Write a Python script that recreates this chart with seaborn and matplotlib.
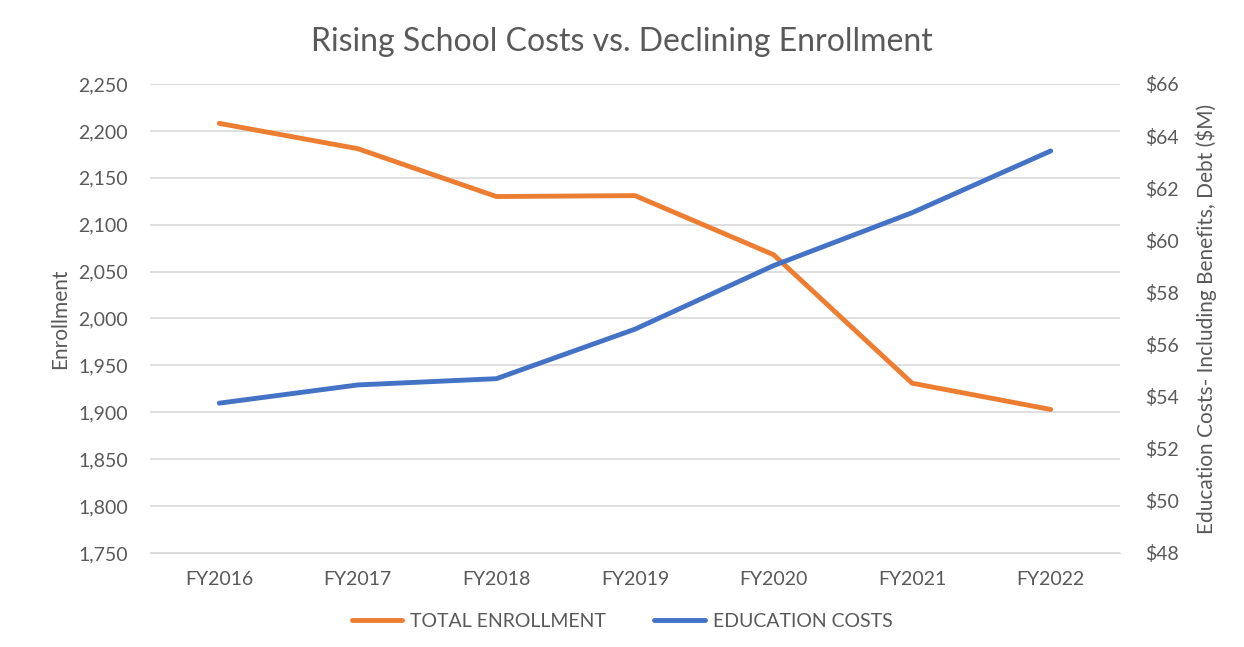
import pandas as pd
import matplotlib
matplotlib.use("Agg")
import matplotlib.pyplot as plt
import seaborn as sns
from matplotlib.lines import Line2D
from matplotlib.ticker import FuncFormatter

# Datos
years = ["FY2016", "FY2017", "FY2018", "FY2019", "FY2020", "FY2021", "FY2022"]
enrollment = [2208, 2181, 2130, 2131, 2068, 1931, 1903]
costs = [53.75, 54.45, 54.69, 56.59, 59.03, 61.06, 63.43]

df = pd.DataFrame({"Year": years, "Enrollment": enrollment, "Costs": costs})

sns.set_style("white")
plt.rcParams["font.family"] = ["Lato", "DejaVu Sans"]

orange = "#ED7D31"
blue = "#4472C4"
gray = "#595959"

fig = plt.figure(figsize=(12.44, 6.47), dpi=100)
ax = fig.add_axes([0.1206, 0.1453, 0.7797, 0.7249])
ax2 = ax.twinx()

sns.lineplot(data=df, x="Year", y="Enrollment", ax=ax, color=orange, linewidth=3.5,
             solid_capstyle="round", sort=False)
sns.lineplot(data=df, x="Year", y="Costs", ax=ax2, color=blue, linewidth=3.5,
             solid_capstyle="round", sort=False)

ax.set_ylim(1750, 2250)
ax.set_yticks(range(1750, 2251, 50))
ax.yaxis.set_major_formatter(FuncFormatter(lambda v, p: f"{int(v):,}"))
ax2.set_ylim(48, 66)
ax2.set_yticks(range(48, 67, 2))
ax2.yaxis.set_major_formatter(FuncFormatter(lambda v, p: f"${int(v)}"))
ax.set_xlim(-0.5, 6.5)

ax.grid(axis="y", color="#D9D9D9", linewidth=1.2)
ax.set_axisbelow(True)
for a in (ax, ax2):
    for s in a.spines.values():
        s.set_visible(False)
    a.tick_params(length=0, labelsize=14, colors=gray)
ax.spines["bottom"].set_visible(True)
ax.spines["bottom"].set_color("#D9D9D9")
ax.tick_params(axis="x", pad=13)
ax.tick_params(axis="y", pad=16)
ax2.tick_params(axis="y", pad=18)

ax.set_xlabel("")
ax.set_ylabel("Enrollment", fontsize=15, color=gray, labelpad=6)
ax2.set_ylabel("Education Costs- Including Benefits, Debt ($M)", fontsize=15, color=gray, labelpad=12)

fig.suptitle("Rising School Costs vs. Declining Enrollment", fontsize=23, color=gray, y=0.958)

handles = [Line2D([], [], color=orange, linewidth=3.5, solid_capstyle="round"),
           Line2D([], [], color=blue, linewidth=3.5, solid_capstyle="round")]
fig.legend(handles, ["TOTAL ENROLLMENT", "EDUCATION COSTS"], loc="center",
           bbox_to_anchor=(0.5, 0.04), ncol=2, frameon=False, fontsize=14,
           labelcolor=gray, handlelength=2.6, handletextpad=0.4, columnspacing=2.5)

fig.savefig("out.png", dpi=100)
